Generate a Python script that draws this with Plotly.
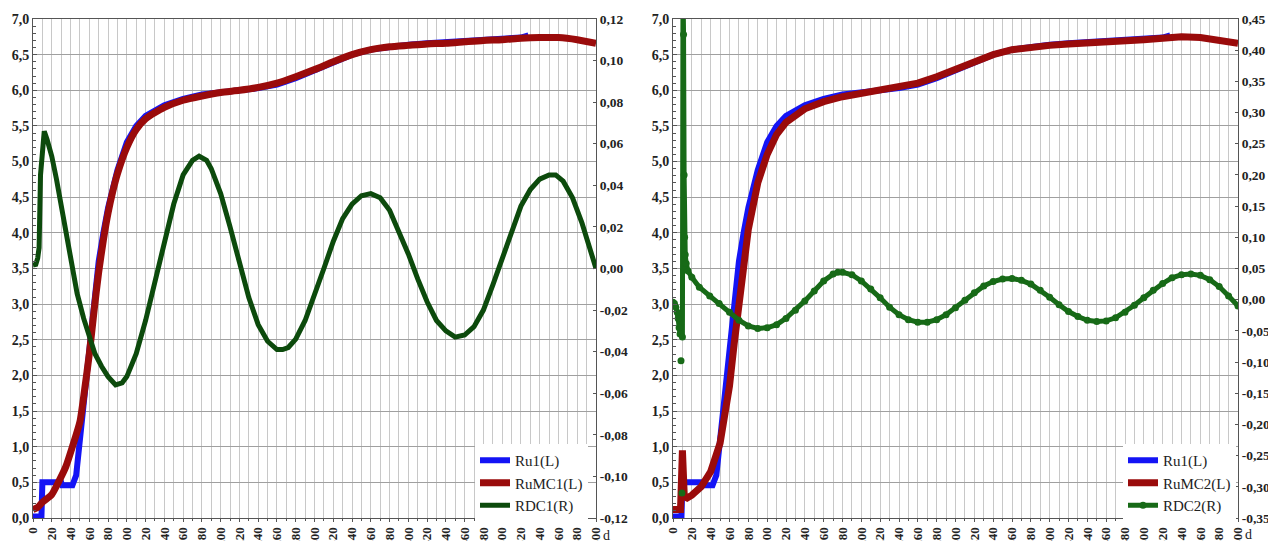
import plotly.graph_objects as go

# ---------------- data ----------------
ru1_x = [0, 9, 10, 20, 30, 31, 42, 46, 50, 55, 60, 65, 70, 75, 80, 90, 100, 110, 120, 140, 160, 180, 200,
         220, 240, 260, 280, 300, 320, 340, 360, 380, 400, 420, 440, 460, 480, 500, 520, 528]
ru1_y = [0.02, 0.02, 0.5, 0.5, 0.5, 0.46, 0.46, 0.6, 1.1, 1.65, 2.35, 3.05, 3.6, 4.0, 4.35, 4.88, 5.27, 5.5,
         5.64, 5.79, 5.88, 5.94, 5.98, 6.0, 6.03, 6.08, 6.17, 6.28, 6.39, 6.5, 6.57, 6.61, 6.64, 6.66, 6.68,
         6.69, 6.71, 6.72, 6.74, 6.77]

rumc1_x = [0, 5, 10, 20, 27, 35, 42, 50, 55, 60, 65, 70, 75, 80, 85, 90, 100, 110, 120, 140, 160, 180, 200,
           220, 240, 260, 280, 300, 320, 340, 360, 380, 400, 420, 440, 460, 480, 500, 520, 540, 560, 580, 600]
rumc1_y = [0.12, 0.15, 0.22, 0.33, 0.5, 0.72, 1.0, 1.35, 1.8, 2.3, 2.9, 3.45, 3.9, 4.28, 4.58, 4.83, 5.2,
           5.45, 5.6, 5.76, 5.86, 5.92, 5.97, 6.0, 6.04, 6.1, 6.19, 6.29, 6.4, 6.5, 6.57, 6.61, 6.63, 6.65,
           6.66, 6.68, 6.7, 6.71, 6.73, 6.74, 6.74, 6.71, 6.66]

rdc1_x = [0, 3, 5, 6.5, 8, 10, 12, 15, 20, 25, 30, 36, 42, 47, 54, 60, 66, 73, 80, 88, 95, 100, 110, 120,
          130, 140, 150, 160, 170, 177, 185, 190, 200, 210, 220, 230, 240, 250, 260, 266, 272, 280, 290,
          300, 310, 320, 330, 340, 350, 360, 370, 380, 390, 400, 410, 420, 430, 440, 450, 460, 470, 480,
          490, 500, 510, 520, 530, 540, 550, 557, 565, 575, 585, 595, 600]
rdc1_y = [0.0017, 0.002, 0.005, 0.01, 0.045, 0.06, 0.066, 0.062, 0.054, 0.043, 0.031, 0.014, 0.0, -0.012,
          -0.024, -0.033, -0.041, -0.047, -0.052, -0.056, -0.055, -0.052, -0.041, -0.025, -0.006, 0.013,
          0.031, 0.045, 0.052, 0.054, 0.052, 0.048, 0.036, 0.020, 0.003, -0.014, -0.027, -0.035, -0.039,
          -0.039, -0.038, -0.034, -0.025, -0.013, 0.0, 0.013, 0.024, 0.031, 0.035, 0.036, 0.034, 0.028,
          0.018, 0.007, -0.005, -0.016, -0.025, -0.030, -0.033, -0.032, -0.028, -0.020, -0.008, 0.005,
          0.018, 0.030, 0.038, 0.043, 0.045, 0.045, 0.042, 0.034, 0.022, 0.008, 0.0]

rumc2_x = [0, 8, 10, 12, 15, 20, 30, 40, 50, 55, 60, 65, 70, 75, 80, 90, 100, 110, 120, 140, 160, 180, 200,
           220, 240, 260, 280, 300, 320, 340, 360, 380, 400, 420, 440, 460, 480, 500, 520, 540, 560, 580, 600]
rumc2_y = [0.12, 0.12, 0.95, 0.3, 0.28, 0.32, 0.44, 0.65, 1.05, 1.4, 1.85, 2.45, 3.05, 3.6, 4.05, 4.7,
           5.1, 5.38, 5.55, 5.74, 5.84, 5.91, 5.96, 6.0, 6.04, 6.1, 6.19, 6.29, 6.4, 6.5, 6.57, 6.61, 6.63,
           6.65, 6.66, 6.68, 6.7, 6.71, 6.73, 6.75, 6.74, 6.71, 6.66]

rdc2_x = [0, 1.5, 3, 4.5, 5.5, 6.5, 7.5, 8, 8.5, 9, 9.5, 9.8, 10, 10.6, 11.2, 11.8, 12.3, 13, 14, 16, 20,
          28, 39, 49, 60, 70, 80, 90, 100, 110, 120, 130, 140, 150, 160, 170, 175, 180, 190, 200, 210, 220,
          230, 240, 250, 260, 270, 280, 290, 300, 310, 320, 330, 340, 350, 360, 370, 380, 390, 400, 410,
          420, 430, 440, 450, 460, 470, 480, 490, 500, 510, 520, 530, 540, 550, 560, 570, 580, 590, 600]
rdc2_y = [-0.004, -0.006, -0.012, -0.02, -0.03, -0.045, -0.055, None, -0.098, None, -0.31, None, -0.06,
          0.5, 0.425, 0.2, 0.1, 0.072, 0.058, 0.046, 0.036, 0.02, 0.006, -0.006, -0.02, -0.033, -0.042,
          -0.046, -0.045, -0.040, -0.030, -0.017, -0.002, 0.014, 0.030, 0.041, 0.044, 0.044, 0.040, 0.030,
          0.017, 0.003, -0.012, -0.024, -0.032, -0.036, -0.036, -0.032, -0.024, -0.013, -0.001, 0.011,
          0.022, 0.029, 0.033, 0.034, 0.031, 0.025, 0.015, 0.004, -0.008, -0.019, -0.027, -0.033, -0.035,
          -0.034, -0.029, -0.020, -0.009, 0.003, 0.015, 0.026, 0.035, 0.040, 0.041, 0.039, 0.032, 0.021,
          0.006, -0.01]

x_ticks = list(range(0, 601, 20))
y_left_ticks = [i * 0.5 for i in range(15)]
y_r1_ticks = [round(-0.12 + i * 0.02, 2) for i in range(13)]
y_r2_ticks = [round(-0.35 + i * 0.05, 2) for i in range(17)]

# ---------------- style ----------------
# the page body has an 8 px margin, so the figure is sized / placed accordingly
OFF = 8
W, H = 1276 - OFF, 541 - OFF
PLOT_TOP, PLOT_BOT = 19 - OFF, 518 - OFF
FONT = "Liberation Serif, Times New Roman, serif"
BLUE = "#1414f5"
RED = "#9a0b0b"
GREEN1 = "#0c4a0c"
GREEN2 = "#176a17"
VGRID = "#c8c8c8"
HGRID = "#a0a0a0"
AXC = "#555555"
TXT = "#222222"


def fmt(v, d):
    return "<b>" + f"{v:.{d}f}".replace(".", ",") + "</b>"


def px(xpage):
    return (xpage - OFF) / W


def py(ypage):
    return (PLOT_BOT - (ypage - OFF)) / (PLOT_BOT - PLOT_TOP)


fig = go.Figure()

# left chart
fig.add_trace(go.Scatter(x=ru1_x, y=ru1_y, name="Ru1(L)", mode="lines",
                         line=dict(color=BLUE, width=6), xaxis="x", yaxis="y", legend="legend"))
fig.add_trace(go.Scatter(x=rumc1_x, y=rumc1_y, name="RuMC1(L)", mode="lines",
                         line=dict(color=RED, width=7, shape="spline", smoothing=0.6),
                         xaxis="x", yaxis="y", legend="legend"))
fig.add_trace(go.Scatter(x=rdc1_x, y=rdc1_y, name="RDC1(R)", mode="lines",
                         line=dict(color=GREEN1, width=5), xaxis="x", yaxis="y2", legend="legend"))

# right chart
fig.add_trace(go.Scatter(x=ru1_x, y=ru1_y, name="Ru1(L)", mode="lines",
                         line=dict(color=BLUE, width=6), xaxis="x2", yaxis="y3", legend="legend2"))
fig.add_trace(go.Scatter(x=rumc2_x, y=rumc2_y, name="RuMC2(L)", mode="lines",
                         line=dict(color=RED, width=7), xaxis="x2", yaxis="y3", legend="legend2"))
fig.add_trace(go.Scatter(x=rdc2_x, y=rdc2_y, name="RDC2(R)", mode="lines+markers",
                         line=dict(color=GREEN2, width=5), marker=dict(color=GREEN2, size=7),
                         connectgaps=False, xaxis="x2", yaxis="y4", legend="legend2"))

tickfont = dict(family=FONT, size=14, color=TXT)
rtickfont = dict(family=FONT, size=13.5, color=TXT)
xtickfont = dict(family=FONT, size=13, color=TXT)


def xaxis(domain, anchor):
    return dict(domain=domain, anchor=anchor, range=[0, 600], tickmode="array",
                tickvals=x_ticks, ticktext=["<b>%d</b>" % v for v in x_ticks], tickangle=-90,
                tickfont=xtickfont, showgrid=True, gridcolor=VGRID, gridwidth=1,
                minor=dict(tickvals=list(range(10, 600, 20)), showgrid=True, gridcolor=VGRID,
                           ticks="outside", ticklen=2, tickcolor=AXC),
                ticks="outside", ticklen=3, tickcolor=AXC,
                showline=True, linecolor=AXC, linewidth=1, mirror=True, zeroline=False,
                automargin=False, fixedrange=True)


def yleft(anchor):
    return dict(anchor=anchor, range=[0, 7], tickmode="array", tickvals=y_left_ticks,
                ticktext=[fmt(v, 1) for v in y_left_ticks], tickfont=tickfont,
                showgrid=True, gridcolor=HGRID, gridwidth=1,
                minor=dict(dtick=0.1, ticks="inside", ticklen=3, tickcolor=AXC, showgrid=False),
                ticks="inside", ticklen=4, tickcolor=AXC,
                showline=True, linecolor=AXC, linewidth=1, mirror=True, zeroline=False,
                automargin=False, fixedrange=True)


def yright(anchor, overlay, rng, ticks):
    return dict(anchor=anchor, overlaying=overlay, side="right", range=rng, tickmode="array",
                tickvals=ticks, ticktext=[fmt(v, 2) for v in ticks], tickfont=rtickfont,
                showgrid=False, ticks="inside", ticklen=3, tickcolor=AXC,
                showline=True, linecolor=AXC, linewidth=1, zeroline=False,
                automargin=False, fixedrange=True)


d1 = [px(33), px(596)]
d2 = [px(673), px(1238)]

legend_common = dict(bgcolor="rgba(255,255,255,1)", borderwidth=0,
                     font=dict(family=FONT, size=15, color=TXT),
                     xanchor="left", yanchor="top", tracegroupgap=0, itemwidth=30)

fig.update_layout(
    width=W, height=H,
    margin=dict(l=0, r=0, t=PLOT_TOP, b=H - PLOT_BOT, pad=0),
    paper_bgcolor="white", plot_bgcolor="white",
    separators=", ",
    xaxis=xaxis(d1, "y"),
    yaxis=yleft("x"),
    yaxis2=yright("x", "y", [-0.12, 0.12], y_r1_ticks),
    xaxis2=xaxis(d2, "y3"),
    yaxis3=yleft("x2"),
    yaxis4=yright("x2", "y3", [-0.35, 0.45], y_r2_ticks),
    legend=dict(x=px(475), y=py(444), **legend_common),
    legend2=dict(x=px(1123), y=py(444), **legend_common),
    showlegend=True,
    annotations=[
        dict(text="d", x=px(606), y=py(535), xref="paper", yref="paper", showarrow=False,
             font=dict(family=FONT, size=14, color=TXT), xanchor="center", yanchor="middle"),
        dict(text="d", x=px(1248), y=py(534), xref="paper", yref="paper", showarrow=False,
             font=dict(family=FONT, size=14, color=TXT), xanchor="center", yanchor="middle"),
    ],
)

fig.write_html("out.html")
